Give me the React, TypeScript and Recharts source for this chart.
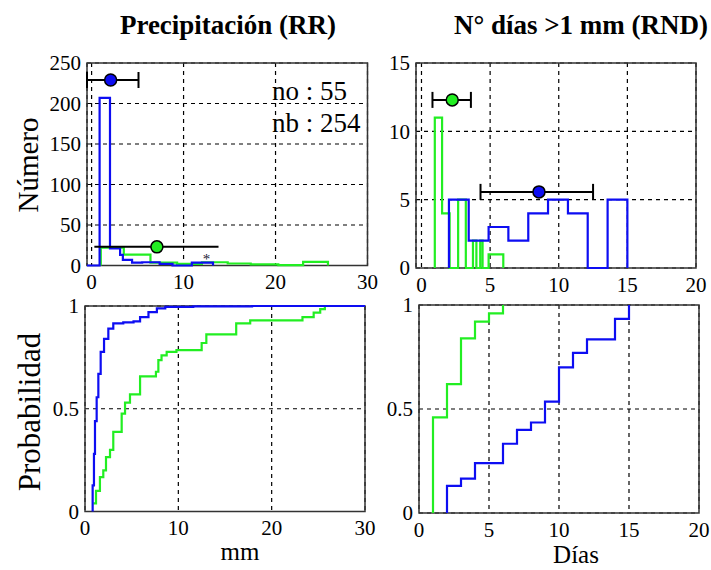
import React from 'react'
import {
  ComposedChart,
  Line,
  Scatter,
  ErrorBar,
  XAxis,
  YAxis,
  CartesianGrid,
  ReferenceArea,
  ReferenceDot,
} from 'recharts'

const FONT = '"Liberation Serif", "Times New Roman", serif'
const BLUE = '#0d0df2'
const GREEN = '#22ee22'

// Precipitación (RR) - histogramas (borde izquierdo del escalón, altura)
const rrBlueX = [-0.5, 0.87, 2.0, 3.1, 3.4, 4.4, 5.5, 7.4, 8.8, 10.9, 13.2]
const rrBlueY = [0, 207, 21, 13, 7, 3.5, 4, 2, 0, 3.5, 0]
const rrGreenX = [1.0, 1.0, 3.5, 6.4, 9.3, 12.0, 14.8, 17.3, 20.3, 23.0, 25.7]
const rrGreenY = [0, 22, 13.5, 3.5, 2, 4, 2.5, 1.5, 0.5, 4.5, 0]

// N° días >1 mm (RND) - histogramas
const rndBlueX = [2.0, 2.0, 3.44, 4.89, 6.33, 7.78, 9.22, 10.67, 12.11, 13.56, 15.0]
const rndBlueY = [0, 5, 2, 3, 2, 4, 5, 4, 0, 5, 0]
const rndGreenX = [0.97, 0.97, 1.5, 2.05, 2.67, 3.23, 3.75, 4.0, 4.28, 4.45, 4.89, 5.96]
const rndGreenY = [0, 11, 4, 0, 5, 0, 2, 0, 2, 0, 1, 0]

// medias con barras de error: [x, y, bajo, alto]
const rrBlueMean = [2.07, 229, 2.57, 3.03]
const rrGreenMean = [7.1, 23, 6.8, 6.7]
const rndGreenMean = [2.24, 12.3, 1.44, 1.36]
const rndBlueMean = [8.56, 5.57, 4.26, 3.94]

// Probabilidad acumulada RR
const cdfRrBlueX = [0.82, 0.82, 0.96, 1.07, 1.25, 1.43, 1.68, 2.04, 2.5, 3.03, 4.1, 5.2, 5.9, 6.8, 7.7, 8.6, 11.6, 17.9, 30]
const cdfRrBlueY = [0, 0.127, 0.28, 0.44, 0.556, 0.67, 0.777, 0.84, 0.89, 0.915, 0.92, 0.925, 0.946, 0.97, 0.988, 0.996, 0.998, 1, 1]
const cdfRrGreenX = [0.89, 1.18, 1.6, 1.96, 2.25, 2.68, 3.03, 3.93, 4.29, 4.82, 5.9, 7.6, 7.86, 8.2, 8.75, 9.8, 12.5, 13.0, 16.2, 17.7, 23.3, 24.5, 25.2, 25.7]
const cdfRrGreenY = [0.04, 0.1, 0.167, 0.2, 0.265, 0.3, 0.387, 0.476, 0.53, 0.57, 0.658, 0.68, 0.737, 0.76, 0.777, 0.785, 0.82, 0.862, 0.915, 0.93, 0.946, 0.968, 0.985, 1]

// Probabilidad acumulada RND
const cdfRndGreenX = [1, 1, 2, 3, 4, 5, 6]
const cdfRndGreenY = [0, 0.46, 0.62, 0.84, 0.92, 0.96, 1]
const cdfRndBlueX = [2, 2, 3, 4, 6, 7, 8, 9, 10, 11, 12, 14, 15]
const cdfRndBlueY = [0, 0.13, 0.165, 0.24, 0.333, 0.4, 0.435, 0.535, 0.7, 0.77, 0.835, 0.933, 1]

const pts = (xs: number[], ys: number[]) => xs.map((x, i) => ({ x, y: ys[i] }))
const mean = (m: number[]) => [{ x: m[0], y: m[1], ex: [m[2], m[3]] }]

type Rect = { l: number; t: number; r: number; b: number }
type TickProps = { x?: number; y?: number; payload?: { value: number } }

const XTick = ({ x, y, payload }: TickProps) => (
  <text x={x} y={y} dy="0.71em" textAnchor="middle" fontFamily={FONT} fontSize={21} fill="#000">
    {payload?.value}
  </text>
)

const YTick = ({ x, y, payload }: TickProps) => (
  <text x={x} y={y} dy="0.355em" textAnchor="end" fontFamily={FONT} fontSize={21} fill="#000">
    {payload?.value}
  </text>
)

function Panel({
  rect,
  xDomain,
  yDomain,
  xTicks,
  yTicks,
  children,
}: {
  rect: Rect
  xDomain: [number, number]
  yDomain: [number, number]
  xTicks: number[]
  yTicks: number[]
  children: React.ReactNode
}) {
  const m = 12
  const yw = 70
  const xh = 34
  return (
    <div style={{ position: 'absolute', left: rect.l - yw - m, top: rect.t - m }}>
      <ComposedChart
        width={rect.r - rect.l + yw + 2 * m}
        height={rect.b - rect.t + xh + 2 * m}
        margin={{ top: m, right: m, bottom: m, left: m }}
      >
        <CartesianGrid stroke="#000" strokeDasharray="4 4" strokeWidth={1.2} />
        <XAxis
          type="number"
          dataKey="x"
          domain={xDomain}
          ticks={xTicks}
          interval={0}
          height={xh}
          tick={XTick}
          tickLine={false}
          axisLine={false}
          tickSize={0}
          tickMargin={9}
        />
        <YAxis
          type="number"
          dataKey="y"
          domain={yDomain}
          ticks={yTicks}
          interval={0}
          width={yw}
          tick={YTick}
          tickLine={false}
          axisLine={false}
          tickSize={0}
          tickMargin={6}
        />
        <ReferenceArea
          x1={xDomain[0]}
          x2={xDomain[1]}
          y1={yDomain[0]}
          y2={yDomain[1]}
          fill="none"
          stroke="#333"
          strokeWidth={1.5}
        />
        {children}
      </ComposedChart>
    </div>
  )
}

const dotShape = (fill: string) => (props: { cx?: number; cy?: number }) => (
  <circle cx={props.cx} cy={props.cy} r={6} fill={fill} stroke="#000" strokeWidth={1.5} />
)

export default function App() {
  return (
    <div style={{ position: 'absolute', left: 0, top: 0, width: 711, height: 570, background: '#fff' }}>
      {/* Precipitación - histograma */}
      <Panel
        rect={{ l: 86.5, t: 63, r: 367, b: 265.5 }}
        xDomain={[-0.5, 30]}
        yDomain={[0, 250]}
        xTicks={[0, 10, 20, 30]}
        yTicks={[0, 50, 100, 150, 200, 250]}
      >
        <Line data={pts(rrGreenX, rrGreenY)} dataKey="y" type="stepAfter" stroke={GREEN} strokeWidth={2.2} dot={false} isAnimationActive={false} />
        <Line data={pts(rrBlueX, rrBlueY)} dataKey="y" type="stepAfter" stroke={BLUE} strokeWidth={2.2} dot={false} isAnimationActive={false} />
        <ReferenceDot x={12.5} y={9} r={0} label={{ value: '*', fill: '#223', fontSize: 15, position: 'center' }} />
        <Scatter data={mean(rrBlueMean)} dataKey="y" shape={dotShape(BLUE)} isAnimationActive={false}>
          <ErrorBar dataKey="ex" direction="x" width={8} stroke="#000" strokeWidth={2} />
        </Scatter>
        <Scatter data={mean(rrGreenMean)} dataKey="y" shape={dotShape(GREEN)} isAnimationActive={false}>
          <ErrorBar dataKey="ex" direction="x" width={0} stroke="#000" strokeWidth={2} />
        </Scatter>
      </Panel>

      {/* Días - histograma */}
      <Panel
        rect={{ l: 416, t: 63, r: 696, b: 268 }}
        xDomain={[-0.4, 20]}
        yDomain={[0, 15]}
        xTicks={[0, 5, 10, 15, 20]}
        yTicks={[0, 5, 10, 15]}
      >
        <Line data={pts(rndGreenX, rndGreenY)} dataKey="y" type="stepAfter" stroke={GREEN} strokeWidth={2.2} dot={false} isAnimationActive={false} />
        <Line data={pts(rndBlueX, rndBlueY)} dataKey="y" type="stepAfter" stroke={BLUE} strokeWidth={2.2} dot={false} isAnimationActive={false} />
        <Scatter data={mean(rndGreenMean)} dataKey="y" shape={dotShape(GREEN)} isAnimationActive={false}>
          <ErrorBar dataKey="ex" direction="x" width={8} stroke="#000" strokeWidth={2} />
        </Scatter>
        <Scatter data={mean(rndBlueMean)} dataKey="y" shape={dotShape(BLUE)} isAnimationActive={false}>
          <ErrorBar dataKey="ex" direction="x" width={8} stroke="#000" strokeWidth={2} />
        </Scatter>
      </Panel>

      {/* Precipitación - acumulada */}
      <Panel
        rect={{ l: 85, t: 305.5, r: 365, b: 511 }}
        xDomain={[0, 30]}
        yDomain={[0, 1]}
        xTicks={[0, 10, 20, 30]}
        yTicks={[0, 0.5, 1]}
      >
        <Line data={pts(cdfRrGreenX, cdfRrGreenY)} dataKey="y" type="stepAfter" stroke={GREEN} strokeWidth={2.2} dot={false} isAnimationActive={false} />
        <Line data={pts(cdfRrBlueX, cdfRrBlueY)} dataKey="y" type="stepAfter" stroke={BLUE} strokeWidth={2.2} dot={false} isAnimationActive={false} />
      </Panel>

      {/* Días - acumulada */}
      <Panel
        rect={{ l: 419, t: 305, r: 699, b: 513 }}
        xDomain={[0, 20]}
        yDomain={[0, 1]}
        xTicks={[0, 5, 10, 15, 20]}
        yTicks={[0, 0.5, 1]}
      >
        <Line data={pts(cdfRndGreenX, cdfRndGreenY)} dataKey="y" type="stepAfter" stroke={GREEN} strokeWidth={2.2} dot={false} isAnimationActive={false} />
        <Line data={pts(cdfRndBlueX, cdfRndBlueY)} dataKey="y" type="stepAfter" stroke={BLUE} strokeWidth={2.2} dot={false} isAnimationActive={false} />
      </Panel>

      {/* textos */}
      <svg
        width={711}
        height={570}
        style={{ position: 'absolute', left: 0, top: 0, pointerEvents: 'none' }}
        fontFamily={FONT}
      >
        <text x={228} y={34} textAnchor="middle" fontSize={27} fontWeight="bold">Precipitación (RR)</text>
        <text x={581} y={34} textAnchor="middle" fontSize={27} fontWeight="bold">N° días &gt;1 mm (RND)</text>
        <text x={272} y={100} fontSize={27}>no : 55</text>
        <text x={272} y={132} fontSize={27}>nb : 254</text>
        <text transform="translate(38,165) rotate(-90)" textAnchor="middle" fontSize={29}>Número</text>
        <text transform="translate(40,412) rotate(-90)" textAnchor="middle" fontSize={31}>Probabilidad</text>
        <text x={240} y={560} textAnchor="middle" fontSize={25}>mm</text>
        <text x={576} y={563} textAnchor="middle" fontSize={25}>Días</text>
      </svg>
    </div>
  )
}
